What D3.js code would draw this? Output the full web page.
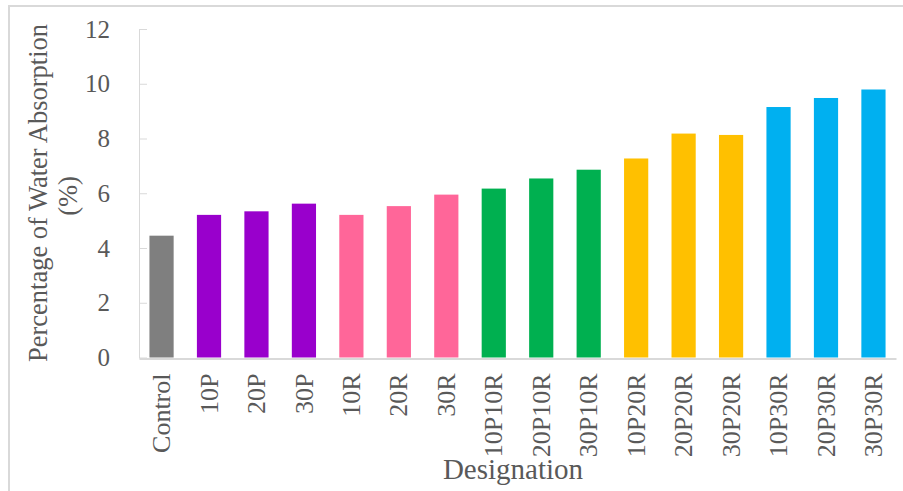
<html>
<head>
    <script src="https://d3js.org/d3.v7.min.js"></script>
    <style>
        body { margin: 0; background: white; }
        svg { display: block; }
        text { font-family: "Liberation Serif", "Times New Roman", serif; fill: #595959; }
    </style>
</head>
<body>
    <svg id="WaterChart" width="903" height="491"></svg>
    <script>
        // values
        const designations = ["Control", "10P", "20P", "30P", "10R", "20R", "30R",
            "10P10R", "20P10R", "30P10R", "10P20R", "20P20R", "30P20R",
            "10P30R", "20P30R", "30P30R"];
        const absorption = [4.45, 5.21, 5.34, 5.62, 5.21, 5.53, 5.95,
            6.17, 6.54, 6.86, 7.27, 8.18, 8.13, 9.15, 9.48, 9.79];
        const groups = ["Control", "P", "P", "P", "R", "R", "R",
            "PR10", "PR10", "PR10", "PR20", "PR20", "PR20", "PR30", "PR30", "PR30"];
        const groupNames = ["Control", "P", "R", "PR10", "PR20", "PR30"];
        const groupColors = ["#7f7f7f", "#9900cc", "#ff6699", "#00b050", "#ffc000", "#00b0f0"];
        const yTicks = [0, 2, 4, 6, 8, 10, 12];

        const svg = d3.select("#WaterChart");

        // outer frame (only top and left edges are inside the picture)
        svg.append("rect")
            .attr("x", 9).attr("y", 6)
            .attr("width", 920).attr("height", 520)
            .attr("fill", "none")
            .attr("stroke", "#d9d9d9")
            .attr("stroke-width", 2);

        const plotLeft = 139, plotRight = 896, plotTop = 29, plotBottom = 357.5;

        const x = d3.scaleBand()
            .domain(designations)
            .range([plotLeft, plotRight])
            .paddingInner(0.49)
            .paddingOuter(0.22);

        const y = d3.scaleLinear()
            .domain([0, 12])
            .range([plotBottom, plotTop]);

        const color = d3.scaleOrdinal().domain(groupNames).range(groupColors);

        const data = designations.map((d, i) => ({name: d, value: absorption[i], group: groups[i]}));

        // y axis, ticks pointing inward
        const yAxis = svg.append("g")
            .attr("transform", "translate(" + plotLeft + ",0)")
            .call(d3.axisLeft(y).tickValues(yTicks).tickSizeInner(-8).tickSizeOuter(0).tickPadding(29));
        yAxis.select(".domain").attr("stroke", "#d9d9d9");
        yAxis.selectAll(".tick line").attr("stroke", "#d9d9d9");
        yAxis.selectAll("text")
            .style("font-size", "25px")
            .attr("fill", "#595959")
            .style("font-family", "Liberation Serif");

        // bars
        svg.selectAll("rect.bar")
            .data(data)
            .join("rect")
            .attr("class", "bar")
            .attr("x", d => x(d.name))
            .attr("y", d => y(d.value))
            .attr("width", x.bandwidth())
            .attr("height", d => y(0) - y(d.value))
            .attr("fill", d => color(d.group));

        // x axis
        const xAxis = svg.append("g")
            .attr("transform", "translate(0," + (plotBottom + 1) + ")")
            .call(d3.axisBottom(x).tickSize(0).tickPadding(0));
        xAxis.select(".domain").attr("stroke", "#d9d9d9").attr("stroke-width", 2);
        xAxis.selectAll("text")
            .style("font-size", "26px")
            .style("font-family", "Liberation Serif")
            .attr("fill", "#595959")
            .attr("transform", "rotate(-90)")
            .attr("x", -15)
            .attr("y", 0)
            .attr("dy", "0.33em")
            .style("text-anchor", "end");

        // axis titles
        svg.append("text")
            .attr("transform", "translate(47,193)rotate(-90)")
            .attr("text-anchor", "middle")
            .style("font-size", "26.5px")
            .text("Percentage of Water Absorption");
        svg.append("text")
            .attr("transform", "translate(77,196)rotate(-90)")
            .attr("text-anchor", "middle")
            .style("font-size", "26.5px")
            .text("(%)");

        svg.append("text")
            .attr("x", 513)
            .attr("y", 479)
            .attr("text-anchor", "middle")
            .style("font-size", "29px")
            .text("Designation");
    </script>
</body>
</html>
